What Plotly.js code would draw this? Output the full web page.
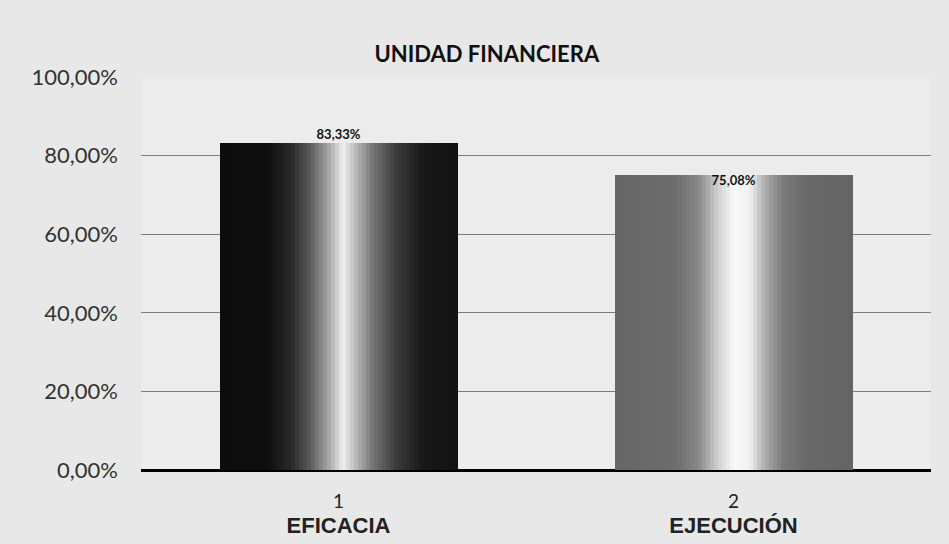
<!DOCTYPE html>
<html><head><meta charset="utf-8">
<script src="https://cdn.plot.ly/plotly-3.0.1.min.js"></script>
<style>body{margin:0;background:#e8e8e8}</style>
</head><body>
<div id="chart" style="width:949px;height:544px"></div>
<script>
// ---- data ----
const categories = [0, 1];
const tickNumbers = ['1', '2'];
const categoryNames = ['EFICACIA', 'EJECUCIÓN'];
const values = [0.8333, 0.7508];
const valueLabels = ['83,33%', '75,08%'];
const chartTitle = 'UNIDAD FINANCIERA';

// ---- styling: horizontal shading profiles (fraction across bar -> grey level) ----
const profiles = [
  [[0,12],[0.2,14],[0.3,40],[0.38,90],[0.46,170],[0.52,240],[0.57,190],[0.64,120],[0.74,60],[0.85,25],[1,18]],
  [[0,102],[0.25,108],[0.35,135],[0.43,205],[0.5,250],[0.57,242],[0.63,175],[0.71,122],[0.8,105],[1,100]]
];
function grey(profile, t) {
  for (let i = 1; i < profile.length; i++) {
    if (t <= profile[i][0]) {
      const a = profile[i-1], b = profile[i];
      const f = (t - a[0]) / (b[0] - a[0]);
      const g = Math.round(a[1] + f * (b[1] - a[1]));
      return `rgb(${g},${g},${g})`;
    }
  }
  const g = profile[profile.length-1][1];
  return `rgb(${g},${g},${g})`;
}

const barWidth = 0.6, slices = 60;
const traces = [];
for (let k = 0; k < slices; k++) {
  const t = (k + 0.5) / slices;
  traces.push({
    type: 'bar', x: categories, y: values,
    offset: -barWidth/2 + k * barWidth / slices,
    width: barWidth / slices * 1.15,
    marker: { color: categories.map((c, i) => grey(profiles[i], t)), line: { width: 0 } },
    hoverinfo: 'skip', showlegend: false
  });
}
traces.push({
  type: 'scatter', mode: 'text', x: categories, y: values,
  text: valueLabels, textposition: ['top center', 'bottom center'],
  textfont: { family: 'Lato, sans-serif', size: 13, color: '#111', weight: 'bold' },
  showlegend: false, hoverinfo: 'skip', cliponaxis: false
});

const layout = {
  width: 949, height: 544,
  margin: { l: 141, r: 18, t: 77, b: 74 },
  paper_bgcolor: '#e8e8e8', plot_bgcolor: '#ececec',
  separators: ',.',
  barmode: 'overlay',
  bargap: 0,
  title: { text: '<b>' + chartTitle + '</b>', x: 0.513, xanchor: 'center', y: 0.9, yanchor: 'middle',
           font: { family: 'Lato, sans-serif', size: 22, color: '#111' } },
  xaxis: {
    range: [-0.5, 1.5], tickmode: 'array', tickvals: categories,
    ticktext: categories.map((c, i) => tickNumbers[i] + '<br><span style="font-family:Liberation Sans,Arial;font-weight:bold;font-size:22px">' + categoryNames[i] + '</span>'),
    tickfont: { family: 'Lato, sans-serif', size: 19, color: '#222' },
    showgrid: false, zeroline: false, showline: false, ticks: '', ticklabelstandoff: 18
  },
  yaxis: {
    range: [0, 1], tickvals: [0, 0.2, 0.4, 0.6, 0.8, 1], tickformat: '.2%',
    tickfont: { family: 'Lato, sans-serif', size: 22, color: '#333' },
    showgrid: true, gridcolor: '#7d7d7d', gridwidth: 1,
    zeroline: true, zerolinecolor: '#000', zerolinewidth: 3,
    showline: false, ticks: '', ticklabelstandoff: 22
  },
  showlegend: false
};
Plotly.newPlot('chart', traces, layout, { staticPlot: true });
</script>
</body></html>
